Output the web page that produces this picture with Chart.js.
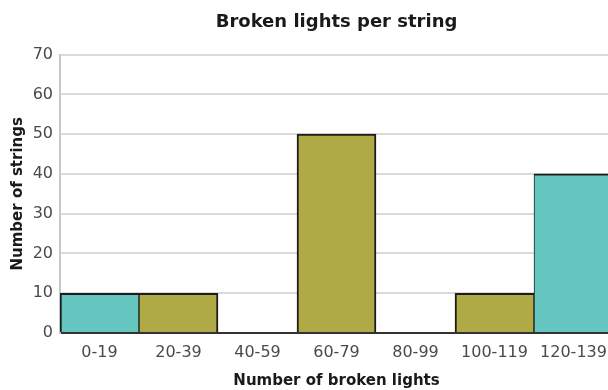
<!DOCTYPE html>
<html>
<head>
<meta charset="utf-8">
<script src="https://cdn.jsdelivr.net/npm/chart.js@4.4.1/dist/chart.umd.min.js"></script>
<style>
  html, body { margin: 0; padding: 0; background: #fff; overflow: hidden; }
  #wrap { width: 674px; height: 390px; }
</style>
</head>
<body>
<div id="wrap"><canvas id="chart" width="674" height="390"></canvas></div>
<script>
// histogram bins and counts
const binLabels = ["0-19", "20-39", "40-59", "60-79", "80-99", "100-119", "120-139"];
const stringCounts = [10, 10, 0, 50, 0, 10, 40];
const binColors = ["#64c6bf", "#afa946", "#afa946", "#afa946", "#afa946", "#afa946", "#64c6bf"];
const yTicks = [0, 10, 20, 30, 40, 50, 60, 70];

const INK = "#1c1c1c";

// shared edges between neighbouring bars get half width on each side
function edgeWidth(ctx) {
    const i = ctx.dataIndex;
    const prev = i > 0 ? stringCounts[i - 1] : 0;
    const next = i < stringCounts.length - 1 ? stringCounts[i + 1] : 0;
    return {
        top: 2,
        left: prev > 0 ? 1 : 2,
        right: next > 0 ? 1 : 2,
        bottom: 0
    };
}

const ctx = document.getElementById("chart").getContext("2d");
const chart = new Chart(ctx, {
    type: "bar",
    data: {
        labels: binLabels,
        datasets: [{
            label: "Number of strings",
            data: stringCounts,
            backgroundColor: binColors,
            borderColor: INK,
            borderWidth: edgeWidth,
            borderSkipped: false,
            barPercentage: 1,
            categoryPercentage: 1
        }]
    },
    options: {
        responsive: false,
        animation: false,
        devicePixelRatio: 1,
        layout: { padding: { left: 0, right: 61, top: 0, bottom: 0 } },
        plugins: {
            legend: { display: false },
            tooltip: { enabled: false },
            title: {
                display: true,
                fullSize: false,   // centre over the plot area, not the canvas
                text: "Broken lights per string",
                color: "#1a1a1a",
                font: { family: "DejaVu Sans", size: 18, weight: "bold" },
                padding: { top: 12, bottom: 21 }
            }
        },
        scales: {
            x: {
                grid: { display: false, drawTicks: false },
                border: { display: true, color: "#333", width: 2 },
                ticks: {
                    color: "#4a4a4a",
                    padding: 10,
                    font: { family: "DejaVu Sans", size: 16 }
                },
                title: {
                    display: true,
                    text: "Number of broken lights",
                    color: "#1a1a1a",
                    font: { family: "DejaVu Sans", size: 15, weight: "bold" },
                    padding: { top: 3, bottom: 0 }
                },
                afterFit: (s) => { s.height = 57; }
            },
            y: {
                min: 0,
                max: 70,
                afterBuildTicks: (s) => { s.ticks = yTicks.map(v => ({ value: v })); },
                grid: {
                    drawTicks: false,
                    lineWidth: 2,
                    color: (c) => (c.tick && c.tick.value === 0) ? "rgba(0,0,0,0)" : "#dadada"
                },
                border: { display: true, color: "#c8c8c8", width: 2 },
                ticks: {
                    color: "#4a4a4a",
                    padding: 7,
                    font: { family: "DejaVu Sans", size: 16 }
                },
                title: {
                    display: true,
                    text: "Number of strings",
                    color: "#1a1a1a",
                    font: { family: "DejaVu Sans", size: 15, weight: "bold" },
                    padding: { top: 9, bottom: 0 }
                },
                afterFit: (s) => { s.width = 60; }
            }
        }
    }
});
</script>
</body>
</html>
